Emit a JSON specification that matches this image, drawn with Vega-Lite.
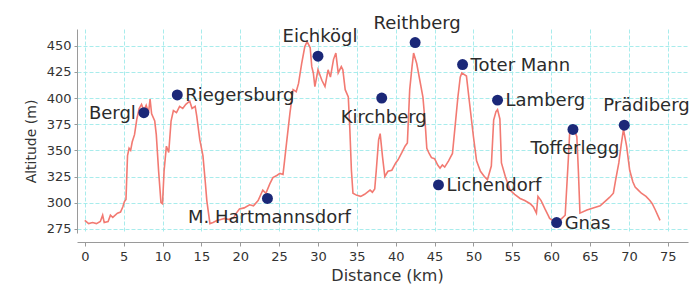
{
  "$schema": "https://vega.github.io/schema/vega-lite/v6.json",
  "width": 611,
  "height": 204,
  "autosize": "none",
  "padding": {"left": 77, "top": 29, "right": 4, "bottom": 51},
  "background": "white",
  "config": {
    "view": {"stroke": null},
    "font": "DejaVu Sans",
    "axis": {
      "labelFont": "DejaVu Sans",
      "titleFont": "DejaVu Sans",
      "labelColor": "#333333",
      "titleColor": "#333333",
      "titleFontWeight": "normal",
      "domainColor": "#9a9a9a",
      "tickColor": "#9a9a9a",
      "gridColor": "#a8ecec",
      "gridDash": [4, 2],
      "gridWidth": 1
    }
  },
  "datasets": {
    "profile": [
      {"d": 0, "alt": 283}, {"d": 0.5, "alt": 280}, {"d": 1.0, "alt": 281}, {"d": 1.5, "alt": 280},
      {"d": 2.0, "alt": 282}, {"d": 2.3, "alt": 288}, {"d": 2.5, "alt": 281}, {"d": 3.0, "alt": 282},
      {"d": 3.3, "alt": 288}, {"d": 3.6, "alt": 286}, {"d": 4.2, "alt": 290}, {"d": 4.6, "alt": 291},
      {"d": 4.9, "alt": 296}, {"d": 5.1, "alt": 301}, {"d": 5.3, "alt": 303}, {"d": 5.5, "alt": 345},
      {"d": 5.7, "alt": 352}, {"d": 5.9, "alt": 350}, {"d": 6.1, "alt": 358}, {"d": 6.4, "alt": 365},
      {"d": 6.7, "alt": 380}, {"d": 7.0, "alt": 390}, {"d": 7.3, "alt": 394}, {"d": 7.6, "alt": 388},
      {"d": 7.9, "alt": 393}, {"d": 8.2, "alt": 386}, {"d": 8.4, "alt": 399}, {"d": 8.6, "alt": 385},
      {"d": 9.0, "alt": 378}, {"d": 9.2, "alt": 365}, {"d": 9.5, "alt": 330}, {"d": 9.8, "alt": 300},
      {"d": 10.0, "alt": 299}, {"d": 10.2, "alt": 330}, {"d": 10.5, "alt": 354}, {"d": 10.8, "alt": 348},
      {"d": 11.1, "alt": 378}, {"d": 11.4, "alt": 388}, {"d": 11.8, "alt": 386}, {"d": 12.2, "alt": 392},
      {"d": 12.6, "alt": 390}, {"d": 13.0, "alt": 394}, {"d": 13.5, "alt": 397}, {"d": 13.8, "alt": 390},
      {"d": 14.2, "alt": 392}, {"d": 14.4, "alt": 383}, {"d": 14.8, "alt": 360}, {"d": 15.2, "alt": 345},
      {"d": 15.5, "alt": 320}, {"d": 15.7, "alt": 302}, {"d": 16.1, "alt": 280}, {"d": 16.5, "alt": 281},
      {"d": 17.0, "alt": 283}, {"d": 17.5, "alt": 284}, {"d": 18.0, "alt": 285}, {"d": 18.5, "alt": 284},
      {"d": 19.1, "alt": 285}, {"d": 19.5, "alt": 290}, {"d": 19.9, "alt": 294}, {"d": 20.5, "alt": 295},
      {"d": 21.2, "alt": 298}, {"d": 21.7, "alt": 297}, {"d": 22.3, "alt": 302}, {"d": 22.9, "alt": 312},
      {"d": 23.3, "alt": 309}, {"d": 23.8, "alt": 318}, {"d": 24.2, "alt": 324}, {"d": 24.7, "alt": 326},
      {"d": 25.1, "alt": 328}, {"d": 25.5, "alt": 327}, {"d": 25.7, "alt": 340}, {"d": 26.0, "alt": 360},
      {"d": 26.4, "alt": 386}, {"d": 26.8, "alt": 408}, {"d": 27.2, "alt": 406}, {"d": 27.5, "alt": 414},
      {"d": 27.9, "alt": 433}, {"d": 28.3, "alt": 449}, {"d": 28.6, "alt": 454}, {"d": 29.0, "alt": 448},
      {"d": 29.2, "alt": 430}, {"d": 29.4, "alt": 424}, {"d": 29.6, "alt": 411}, {"d": 30.0, "alt": 427},
      {"d": 30.5, "alt": 417}, {"d": 30.9, "alt": 411}, {"d": 31.3, "alt": 427}, {"d": 31.6, "alt": 420},
      {"d": 32.0, "alt": 437}, {"d": 32.3, "alt": 443}, {"d": 32.6, "alt": 424}, {"d": 33.0, "alt": 430},
      {"d": 33.2, "alt": 427}, {"d": 33.5, "alt": 408}, {"d": 33.9, "alt": 401}, {"d": 34.1, "alt": 370},
      {"d": 34.3, "alt": 331}, {"d": 34.5, "alt": 309}, {"d": 35.0, "alt": 307}, {"d": 35.5, "alt": 306},
      {"d": 36.0, "alt": 308}, {"d": 36.7, "alt": 312}, {"d": 37.0, "alt": 310}, {"d": 37.3, "alt": 313},
      {"d": 37.5, "alt": 331}, {"d": 37.8, "alt": 360}, {"d": 38.0, "alt": 366}, {"d": 38.3, "alt": 344},
      {"d": 38.6, "alt": 325}, {"d": 39.0, "alt": 330}, {"d": 39.5, "alt": 331}, {"d": 40.0, "alt": 338},
      {"d": 40.3, "alt": 341}, {"d": 40.8, "alt": 348}, {"d": 41.2, "alt": 354}, {"d": 41.5, "alt": 357},
      {"d": 41.8, "alt": 408}, {"d": 42.1, "alt": 430}, {"d": 42.3, "alt": 443}, {"d": 42.7, "alt": 433},
      {"d": 43.1, "alt": 417}, {"d": 43.5, "alt": 401}, {"d": 43.8, "alt": 375}, {"d": 44.0, "alt": 352},
      {"d": 44.3, "alt": 347}, {"d": 44.6, "alt": 343}, {"d": 45.0, "alt": 342}, {"d": 45.4, "alt": 336},
      {"d": 45.7, "alt": 333}, {"d": 46.0, "alt": 336}, {"d": 46.3, "alt": 334}, {"d": 46.8, "alt": 340},
      {"d": 47.3, "alt": 347}, {"d": 47.6, "alt": 370}, {"d": 48.0, "alt": 401}, {"d": 48.3, "alt": 420},
      {"d": 48.5, "alt": 424}, {"d": 49.1, "alt": 421}, {"d": 49.5, "alt": 395}, {"d": 50.0, "alt": 363},
      {"d": 50.4, "alt": 340}, {"d": 50.9, "alt": 330}, {"d": 51.4, "alt": 325}, {"d": 51.8, "alt": 322},
      {"d": 52.3, "alt": 335}, {"d": 52.6, "alt": 379}, {"d": 52.9, "alt": 387}, {"d": 53.1, "alt": 389},
      {"d": 53.4, "alt": 380}, {"d": 53.6, "alt": 338}, {"d": 54.1, "alt": 325}, {"d": 54.7, "alt": 312},
      {"d": 55.3, "alt": 308}, {"d": 56.0, "alt": 304}, {"d": 56.6, "alt": 302}, {"d": 57.3, "alt": 299},
      {"d": 57.7, "alt": 296}, {"d": 58.1, "alt": 290}, {"d": 58.3, "alt": 306}, {"d": 58.7, "alt": 302},
      {"d": 59.2, "alt": 294}, {"d": 59.6, "alt": 288}, {"d": 59.8, "alt": 285}, {"d": 60.4, "alt": 282},
      {"d": 61.1, "alt": 283}, {"d": 61.8, "alt": 288}, {"d": 62.2, "alt": 341}, {"d": 62.4, "alt": 370},
      {"d": 62.7, "alt": 368}, {"d": 63.0, "alt": 369}, {"d": 63.3, "alt": 363}, {"d": 63.5, "alt": 330},
      {"d": 63.7, "alt": 290}, {"d": 64.6, "alt": 293}, {"d": 65.4, "alt": 295}, {"d": 66.3, "alt": 297},
      {"d": 66.9, "alt": 301}, {"d": 67.5, "alt": 305}, {"d": 68.0, "alt": 309}, {"d": 68.3, "alt": 322},
      {"d": 68.7, "alt": 338}, {"d": 69.0, "alt": 355}, {"d": 69.3, "alt": 370}, {"d": 69.7, "alt": 354},
      {"d": 70.1, "alt": 331}, {"d": 70.5, "alt": 320}, {"d": 70.8, "alt": 315}, {"d": 71.2, "alt": 312},
      {"d": 71.6, "alt": 309}, {"d": 72.2, "alt": 306}, {"d": 72.7, "alt": 302}, {"d": 73.0, "alt": 299},
      {"d": 73.4, "alt": 293}, {"d": 74.0, "alt": 283}
    ],
    "places": [
      {"name": "Bergl", "d": 7.6, "alt": 386},
      {"name": "Riegersburg", "d": 11.9, "alt": 403},
      {"name": "M. Hartmannsdorf", "d": 23.5, "alt": 304},
      {"name": "Eichkögl", "d": 30.0, "alt": 440},
      {"name": "Kirchberg", "d": 38.2, "alt": 400},
      {"name": "Reithberg", "d": 42.5, "alt": 453},
      {"name": "Lichendorf", "d": 45.5, "alt": 317},
      {"name": "Toter Mann", "d": 48.6, "alt": 432},
      {"name": "Lamberg", "d": 53.1, "alt": 398},
      {"name": "Gnas", "d": 60.7, "alt": 281},
      {"name": "Tofferlegg", "d": 62.8, "alt": 370},
      {"name": "Prädiberg", "d": 69.4, "alt": 374}
    ]
  },
  "encoding": {
    "x": {
      "field": "d", "type": "quantitative",
      "scale": {"domain": [-1, 77.6], "nice": false, "zero": false},
      "axis": {
        "title": "Distance (km)", "values": [0,5,10,15,20,25,30,35,40,45,50,55,60,65,70,75],
        "offset": 9, "tickSize": 4, "labelPadding": 4, "labelFontSize": 13,
        "titleFontSize": 16, "titlePadding": 4, "titleX": 310, "grid": true
      }
    },
    "y": {
      "field": "alt", "type": "quantitative",
      "scale": {"domain": [271, 466], "nice": false, "zero": false},
      "axis": {
        "title": "Altitude (m)", "values": [275,300,325,350,375,400,425,450],
        "tickSize": 3, "labelPadding": 3, "labelFontSize": 13,
        "titleFontSize": 14, "titlePadding": 8, "titleY": 112, "grid": true
      }
    }
  },
  "layer": [
    {
      "data": {"name": "profile"},
      "mark": {"type": "line", "color": "#f27a72", "strokeWidth": 1.6, "clip": true},
      "encoding": {}
    },
    {
      "data": {"name": "places"},
      "mark": {"type": "point", "filled": true, "color": "#1b2878", "opacity": 1, "size": 120},
      "encoding": {}
    },
    {
      "data": {"name": "places"},
      "transform": [{"filter": {"field": "name", "oneOf": ["Riegersburg", "Lichendorf", "Toter Mann", "Lamberg", "Gnas"]}}],
      "mark": {"type": "text", "align": "left", "baseline": "middle", "dx": 8, "dy": 1, "fontSize": 18, "color": "#2b2b2b"},
      "encoding": {"text": {"field": "name"}}
    },
    {
      "data": {"name": "places"},
      "transform": [{"filter": {"field": "name", "oneOf": ["Bergl"]}}],
      "mark": {"type": "text", "align": "right", "baseline": "middle", "dx": -8, "dy": 1, "fontSize": 18, "color": "#2b2b2b"},
      "encoding": {"text": {"field": "name"}}
    },
    {
      "data": {"name": "places"},
      "transform": [{"filter": {"field": "name", "oneOf": ["M. Hartmannsdorf", "Kirchberg", "Tofferlegg"]}}],
      "mark": {"type": "text", "align": "center", "baseline": "middle", "dy": 20, "dx": 2, "fontSize": 18, "color": "#2b2b2b"},
      "encoding": {"text": {"field": "name"}}
    },
    {
      "data": {"name": "places"},
      "transform": [{"filter": {"field": "name", "oneOf": ["Eichkögl", "Reithberg"]}}],
      "mark": {"type": "text", "align": "center", "baseline": "middle", "dy": -19, "dx": 2, "fontSize": 18, "color": "#2b2b2b"},
      "encoding": {"text": {"field": "name"}}
    },
    {
      "data": {"name": "places"},
      "transform": [{"filter": {"field": "name", "oneOf": ["Prädiberg"]}}],
      "mark": {"type": "text", "align": "left", "baseline": "middle", "dy": -19, "dx": -21, "fontSize": 18, "color": "#2b2b2b"},
      "encoding": {"text": {"field": "name"}}
    }
  ]
}
